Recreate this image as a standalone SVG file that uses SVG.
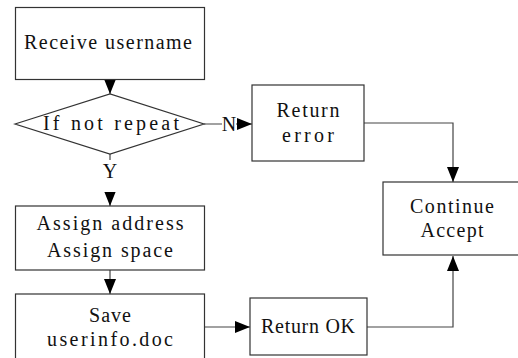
<svg xmlns="http://www.w3.org/2000/svg" width="518" height="358" viewBox="0 0 518 358">
  <defs>
    <marker id="arrow" viewBox="0 0 15 12" refX="15" refY="6" markerWidth="15" markerHeight="12" markerUnits="userSpaceOnUse" orient="auto">
      <path d="M0,0 L15,6 L0,12 Z" fill="#000"/>
    </marker>
  </defs>
  <style>
    .box { fill: #fff; stroke: #333; stroke-width: 1.2; }
    .edge { fill: none; stroke: #444; stroke-width: 1.2; marker-end: url(#arrow); }
    .t { font-family: "Liberation Serif", "DejaVu Serif", serif; font-size: 20px; fill: #111; text-anchor: middle; }
    .lblbg { fill: #fff; }
  </style>

  <!-- connectors -->
  <g id="connectors">
    <path class="edge" d="M110,79.5 V94"/>
    <path class="edge" d="M204,124 H252"/>
    <path class="edge" d="M364,123 H453 V182"/>
    <path class="edge" d="M110,154 V206"/>
    <path class="edge" d="M110,270 V294"/>
    <path class="edge" d="M204,327 H250"/>
    <path class="edge" d="M367,327 H453 V256"/>
    <g id="label-n">
      <rect class="lblbg" x="222" y="114" width="14" height="18"/>
      <text class="t" x="229" y="131">N</text>
    </g>
    <g id="label-y">
      <rect class="lblbg" x="102" y="160" width="16" height="32"/>
      <text class="t" x="110" y="178">Y</text>
    </g>
  </g>

  <g id="receive">
    <rect class="box" x="15.5" y="7.5" width="189" height="72"/>
    <text class="t" x="108" y="49" textLength="168" lengthAdjust="spacing">Receive username</text>
  </g>

  <g id="check">
    <polygon class="box" points="15,124 110,94 204,124 110,154"/>
    <text class="t" x="111" y="130" textLength="136" lengthAdjust="spacing">If not repeat</text>
  </g>

  <g id="return-error">
    <rect class="box" x="252" y="85" width="112" height="76"/>
    <text class="t" x="308" y="117" textLength="63" lengthAdjust="spacing">Return</text>
    <text class="t" x="308" y="142" textLength="52" lengthAdjust="spacing">error</text>
  </g>

  <g id="continue">
    <rect class="box" x="383" y="182" width="150" height="73"/>
    <text class="t" x="452" y="213" textLength="84" lengthAdjust="spacing">Continue</text>
    <text class="t" x="452" y="237" textLength="63" lengthAdjust="spacing">Accept</text>
  </g>

  <g id="assign">
    <rect class="box" x="15.5" y="206" width="189" height="64"/>
    <text class="t" x="110" y="230" textLength="147" lengthAdjust="spacing">Assign address</text>
    <text class="t" x="110" y="257" textLength="126" lengthAdjust="spacing">Assign space</text>
  </g>

  <g id="save">
    <rect class="box" x="15.5" y="294" width="189" height="80"/>
    <text class="t" x="110" y="322" textLength="42" lengthAdjust="spacing">Save</text>
    <text class="t" x="110" y="346" textLength="126" lengthAdjust="spacing">userinfo.doc</text>
  </g>

  <g id="return-ok">
    <rect class="box" x="250" y="298" width="117" height="57"/>
    <text class="t" x="308" y="333" textLength="94" lengthAdjust="spacing">Return OK</text>
  </g>
</svg>
